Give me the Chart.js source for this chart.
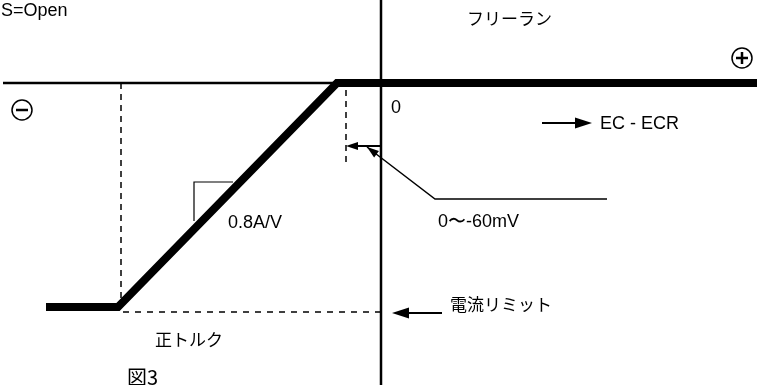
<!DOCTYPE html>
<html>
<head>
<meta charset="utf-8">
<script src="https://cdn.jsdelivr.net/npm/chart.js@4.4.1/dist/chart.umd.min.js"></script>
<style>
  html, body { margin: 0; padding: 0; background: #ffffff; }
  canvas { display: block; }
</style>
</head>
<body>
<canvas id="c" width="760" height="385"></canvas>
<script>
// ---- data (x: EC - ECR, arbitrary units, 0 at the vertical axis; y: current, 0 at free run) ----
const responseX = [-335, -263, -44, 376];
const responseY = [-224, -224, 0, 0];

const axisHX = [-378, -44];
const axisHY = [0, 0];
const axisVX = [0, 0];
const axisVY = [83, -302];

const dashLeftX = [-260, -260];
const dashLeftY = [0, -215];
const dashLimitX = [-258, 0];
const dashLimitY = [-229, -229];
const dashOffsetX = [-35, -35];
const dashOffsetY = [-7, -79];

const slopeX = [-187, -187, -148];
const slopeY = [-138, -99, -99];

const leaderX = [-14, 54, 226];
const leaderY = [-64, -116, -116];

const signX = [-359, 361];
const signY = [-27, 25];
const signStyle = ['line', 'cross'];

const arrowFromX = [161, 61, 0];
const arrowFromY = [-40, -230, -63];
const arrowToX = [211, 11, -35];
const arrowToY = [-40, -230, -63];

const labelText = ['S=Open', 'フリーラン', '0', 'EC - ECR', '0.8A/V', '0〜-60mV', '電流リミット', '正トルク', '図3'];
const labelX = [-380, 86, 10, 219, -153, 57, 69, -226, -254];
const labelY = [72, 64, -25, -41, -140, -139, -222, -257, -294];
const labelFontKind = ['latin', 'cjk', 'latin', 'latin', 'latin', 'latin', 'cjk', 'cjk', 'cjk'];

// ---- helpers ----
const pts = (xs, ys) => xs.map((x, i) => ({ x: x, y: ys[i] }));
const LATIN = '"Liberation Sans", Arial, sans-serif';
const CJK = '"Noto Sans CJK JP", "Noto Sans", sans-serif';

function lineDs(xs, ys, width, dash) {
  return {
    type: 'line',
    data: pts(xs, ys),
    borderColor: '#000',
    borderWidth: width,
    borderDash: dash || [],
    pointRadius: 0,
    fill: false,
    tension: 0,
    borderCapStyle: 'butt',
    borderJoinStyle: 'miter'
  };
}

const annotate = {
  id: 'annotate',
  afterDatasetsDraw(chart) {
    const ctx = chart.ctx;
    const xs = chart.scales.x, ys = chart.scales.y;
    ctx.save();
    ctx.fillStyle = '#000';
    ctx.strokeStyle = '#000';
    // arrows
    for (let i = 0; i < arrowFromX.length; i++) {
      const x1 = xs.getPixelForValue(arrowFromX[i]), y1 = ys.getPixelForValue(arrowFromY[i]);
      const x2 = xs.getPixelForValue(arrowToX[i]), y2 = ys.getPixelForValue(arrowToY[i]);
      const ang = Math.atan2(y2 - y1, x2 - x1);
      const hl = i === 2 ? 12 : 17, hw = i === 2 ? 4 : 5.5;
      ctx.lineWidth = 2;
      ctx.beginPath();
      ctx.moveTo(x1, y1);
      ctx.lineTo(x2 - Math.cos(ang) * hl * 0.8, y2 - Math.sin(ang) * hl * 0.8);
      ctx.stroke();
      ctx.beginPath();
      ctx.moveTo(x2, y2);
      ctx.lineTo(x2 - Math.cos(ang) * hl - Math.sin(ang) * hw, y2 - Math.sin(ang) * hl + Math.cos(ang) * hw);
      ctx.lineTo(x2 - Math.cos(ang) * hl + Math.sin(ang) * hw, y2 - Math.sin(ang) * hl - Math.cos(ang) * hw);
      ctx.closePath();
      ctx.fill();
    }
    // small arrowhead at the start of the leader line
    {
      const x1 = xs.getPixelForValue(leaderX[1]), y1 = ys.getPixelForValue(leaderY[1]);
      const x2 = xs.getPixelForValue(leaderX[0]), y2 = ys.getPixelForValue(leaderY[0]);
      const ang = Math.atan2(y2 - y1, x2 - x1);
      const hl = 12, hw = 4;
      ctx.beginPath();
      ctx.moveTo(x2, y2);
      ctx.lineTo(x2 - Math.cos(ang) * hl - Math.sin(ang) * hw, y2 - Math.sin(ang) * hl + Math.cos(ang) * hw);
      ctx.lineTo(x2 - Math.cos(ang) * hl + Math.sin(ang) * hw, y2 - Math.sin(ang) * hl - Math.cos(ang) * hw);
      ctx.closePath();
      ctx.fill();
    }
    // labels
    ctx.textBaseline = 'middle';
    ctx.textAlign = 'left';
    for (let i = 0; i < labelText.length; i++) {
      const kind = labelFontKind[i];
      const size = labelText[i] === '図3' ? 20 : (kind === 'cjk' ? 17 : 18);
      ctx.font = size + 'px ' + (kind === 'cjk' ? CJK : LATIN);
      ctx.fillText(labelText[i], xs.getPixelForValue(labelX[i]), ys.getPixelForValue(labelY[i]));
    }
    ctx.restore();
  }
};

const bg = {
  id: 'bg',
  beforeDraw(chart) {
    const c = chart.ctx;
    c.save();
    c.fillStyle = '#fff';
    c.fillRect(0, 0, chart.width, chart.height);
    c.restore();
  }
};

new Chart(document.getElementById('c'), {
  type: 'scatter',
  data: {
    datasets: [
      {
        type: 'scatter',
        data: pts(signX, signY),
        pointStyle: signStyle,
        pointRadius: 6,
        borderColor: '#000',
        borderWidth: 2.5,
        backgroundColor: '#000'
      },
      {
        type: 'scatter',
        data: pts(signX, signY),
        pointStyle: 'circle',
        pointRadius: 10,
        borderColor: '#000',
        borderWidth: 1.5,
        backgroundColor: '#fff'
      },
      lineDs(responseX, responseY, 8),
      lineDs(axisHX, axisHY, 2.5),
      lineDs(axisVX, axisVY, 2.5),
      lineDs(dashLeftX, dashLeftY, 1.5, [6, 5]),
      lineDs(dashLimitX, dashLimitY, 1.5, [6, 6]),
      lineDs(dashOffsetX, dashOffsetY, 1.5, [6, 5]),
      lineDs(slopeX, slopeY, 1.2),
      lineDs(leaderX, leaderY, 1.5)
    ]
  },
  options: {
    responsive: false,
    animation: false,
    devicePixelRatio: 1,
    events: [],
    layout: { padding: 0, autoPadding: false },
    plugins: { legend: { display: false }, tooltip: { enabled: false } },
    scales: {
      x: { type: 'linear', min: -381, max: 379, display: false },
      y: { type: 'linear', min: -302, max: 83, display: false }
    }
  },
  plugins: [bg, annotate]
});
</script>
</body>
</html>
